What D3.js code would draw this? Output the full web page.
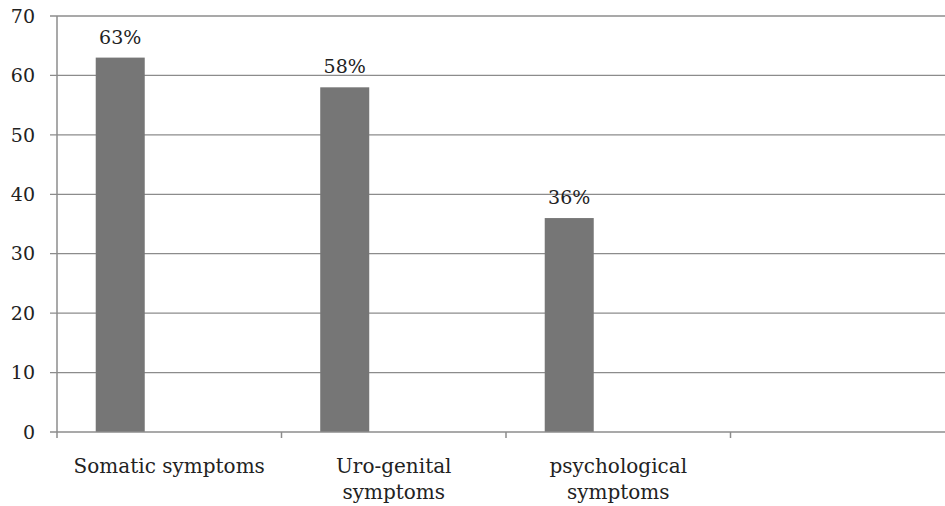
<!DOCTYPE html>
<html>
<head>
<meta charset="utf-8">
<script src="https://cdn.jsdelivr.net/npm/d3@7"></script>
<style>
  body { margin: 0; background: #fff; }
  svg { display: block; }
  text { font-family: "DejaVu Serif", serif; fill: #222; }
</style>
</head>
<body>
<svg id="chart" width="945" height="506"></svg>
<script>
'use strict';

// data
var categories = ['Somatic symptoms', 'Uro-genital\nsymptoms', 'psychological\nsymptoms', ''];
var values = [63, 58, 36, null];
var valueLabels = ['63%', '58%', '36%', ''];
var series = ['a', 'b', 'c']; // only the first series carries values
var yTicks = [0, 10, 20, 30, 40, 50, 60, 70];

var svg = d3.select('#chart');
var margin = { top: 16, left: 57, bottom: 74 };
var plotW = 898, plotH = 506 - margin.top - margin.bottom;

var g = svg.append('g').attr('transform', 'translate(' + margin.left + ',' + margin.top + ')');

var x = d3.scaleBand().domain(d3.range(categories.length)).range([0, plotW]).padding(0);
var xs = d3.scaleBand().domain(series).range([0, x.bandwidth()]).paddingInner(0).paddingOuter(0.79);
var y = d3.scaleLinear().domain([0, 70]).range([plotH, 0]);

// grid lines
g.selectAll('.grid').data(yTicks.slice(1)).enter()
    .append('line')
    .attr('x1', -7).attr('x2', plotW)
    .attr('y1', function (d) { return y(d); })
    .attr('y2', function (d) { return y(d); })
    .attr('stroke', '#8c8c8c').attr('stroke-width', 1.3);

// y tick labels
g.selectAll('.ylab').data(yTicks).enter()
    .append('text')
    .attr('x', -22)
    .attr('y', function (d) { return y(d); })
    .attr('dy', '0.35em')
    .attr('text-anchor', 'end')
    .style('font-size', '19px')
    .text(function (d) { return d; });

// bars
var bars = values.map(function (v, i) { return { i: i, v: v }; }).filter(function (d) { return d.v != null; });
g.selectAll('.bar').data(bars).enter()
    .append('rect')
    .attr('x', function (d) { return x(d.i) + xs('a'); })
    .attr('width', xs.bandwidth())
    .attr('y', function (d) { return y(d.v); })
    .attr('height', function (d) { return plotH - y(d.v); })
    .attr('fill', '#767676');

g.selectAll('.vlab').data(bars).enter()
    .append('text')
    .attr('x', function (d) { return x(d.i) + xs('a') + xs.bandwidth() / 2; })
    .attr('y', function (d) { return y(d.v) - 14; })
    .attr('text-anchor', 'middle')
    .style('font-size', '19px')
    .text(function (d) { return valueLabels[d.i]; });

// axis lines
g.append('line').attr('x1', 0).attr('x2', 0).attr('y1', 0).attr('y2', plotH)
    .attr('stroke', '#8c8c8c').attr('stroke-width', 1.5);
g.append('line').attr('x1', -7).attr('x2', plotW).attr('y1', plotH).attr('y2', plotH)
    .attr('stroke', '#8c8c8c').attr('stroke-width', 1.5);

// x ticks at category boundaries
g.selectAll('.xtick').data(d3.range(categories.length)).enter()
    .append('line')
    .attr('x1', function (d) { return x(d); })
    .attr('x2', function (d) { return x(d); })
    .attr('y1', plotH).attr('y2', plotH + 6)
    .attr('stroke', '#8c8c8c').attr('stroke-width', 1.5);

// category labels
var xl = g.selectAll('.xlab').data(categories).enter()
    .append('text')
    .attr('x', function (d, i) { return x(i) + x.bandwidth() / 2; })
    .attr('y', plotH + 41)
    .attr('text-anchor', 'middle')
    .style('font-size', '20px');
xl.each(function (d) {
    var t = d3.select(this);
    d.split('\n').forEach(function (line, k) {
        t.append('tspan')
            .attr('x', t.attr('x'))
            .attr('dy', k === 0 ? 0 : 26)
            .text(line);
    });
});
</script>
</body>
</html>
